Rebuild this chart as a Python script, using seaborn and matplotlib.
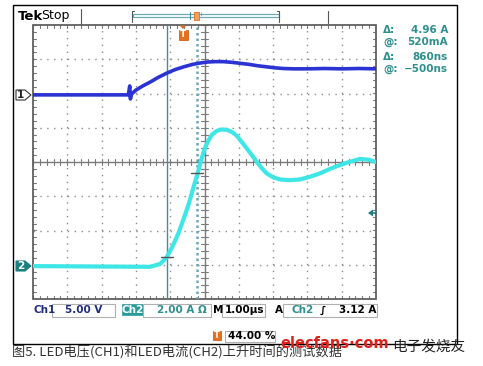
import matplotlib
matplotlib.use("Agg")
import matplotlib.pyplot as plt
import seaborn as sns
import numpy as np
import pandas as pd
from matplotlib.patches import Rectangle, Polygon

# ---------------- data (time in divisions of 1.00 us, level in divisions) -------------
ch1_time_div = [0.0, 2.78, 2.82, 2.84, 2.87, 3.0, 3.2, 3.41, 3.65, 3.91, 4.15, 4.4, 4.65,
                4.87, 5.1, 5.3, 5.55, 5.8, 6.05, 6.3, 6.55, 6.8, 7.05, 7.3, 7.6, 8.0,
                8.5, 9.0, 9.5, 10.0]
ch1_level_div = [1.96, 1.96, 2.22, 1.84, 1.98, 2.10, 2.22, 2.33, 2.47, 2.60, 2.70, 2.78, 2.85,
                 2.89, 2.92, 2.93, 2.93, 2.91, 2.88, 2.85, 2.81, 2.78, 2.75, 2.73, 2.72, 2.72,
                 2.73, 2.72, 2.73, 2.72]
ch2_time_div = [0.0, 3.41, 3.70, 3.90, 4.09, 4.24, 4.38, 4.53, 4.67, 4.80, 4.92, 5.01, 5.11,
                5.21, 5.36, 5.50, 5.65, 5.79, 5.94, 6.08, 6.23, 6.38, 6.52, 6.67, 6.81,
                7.01, 7.20, 7.49, 7.78, 8.08, 8.37, 8.66, 8.95, 9.15, 9.53, 9.77, 10.0]
ch2_level_div = [-3.04, -3.06, -2.98, -2.78, -2.42, -2.08, -1.69, -1.26, -0.77, -0.33, 0.11, 0.40, 0.62,
                 0.79, 0.91, 0.95, 0.94, 0.88, 0.77, 0.59, 0.40, 0.20, 0.01, -0.18, -0.33,
                 -0.45, -0.51, -0.53, -0.51, -0.43, -0.33, -0.20, -0.09, -0.02, 0.09, 0.07, 0.00]
cursor_times_div = [3.90, 4.78]
cursor_levels_div = [-2.77, -0.33]
readout_labels = ["Δ:", "@:", "Δ:", "@:"]
readout_values = ["4.96 A", "520mA", "860ns", "−500ns"]
ch1_scale = "5.00 V"
ch2_scale = "2.00 A Ω"
time_scale = "1.00µs"
trigger_level = "3.12 A"
trigger_pos = "44.00 %"
caption = "图5. LED电压(CH1)和LED电流(CH2)上升时间的测试数据"

sns.set_theme(style="white")
plt.rcParams['font.family'] = ['DejaVu Sans', 'Noto Sans CJK SC']

W, H = 483, 366
fig = plt.figure(figsize=(4.83, 3.66), dpi=100)
fig.patch.set_facecolor('white')

# ---------------- graticule axes ----------------
ax = fig.add_axes([33 / W, 1 - 299 / H, 343 / W, 274 / H])
ax.set_xlim(0, 10)
ax.set_ylim(-4, 4)
ax.axis('off')

grid_c = '#8c8c8c'
for gx in range(1, 10):
    if gx == 5:
        continue
    ax.plot([gx, gx], [-4, 4], color=grid_c, lw=1, ls=(0, (1, 3.93)), zorder=1)
for gy in range(-3, 4):
    if gy == 0:
        continue
    ax.plot([0, 10], [gy, gy], color=grid_c, lw=1, ls=(0, (1, 3.94)), zorder=1)
ax.plot([5, 5], [-4, 4], color='#7a7a7a', lw=1, zorder=1)
ax.plot([0, 10], [0, 0], color='#7a7a7a', lw=1, zorder=1)
for m in np.arange(0, 10.001, 0.2):
    ax.plot([m, m], [-0.09, 0.09], color='#7a7a7a', lw=0.8, zorder=1)
    ax.plot([m, m], [4, 3.9], color='#7a7a7a', lw=0.8, zorder=1)
    ax.plot([m, m], [-4, -3.9], color='#7a7a7a', lw=0.8, zorder=1)
for m in np.arange(-4, 4.001, 0.2):
    ax.plot([4.91, 5.09], [m, m], color='#7a7a7a', lw=0.8, zorder=1)
    ax.plot([0, 0.09], [m, m], color='#7a7a7a', lw=0.8, zorder=1)
    ax.plot([10, 9.91], [m, m], color='#7a7a7a', lw=0.8, zorder=1)
ax.add_patch(Rectangle((0, -4), 10, 8, fill=False, ec='#606060', lw=1.3, clip_on=False, zorder=2))

# cursors
ax.plot([cursor_times_div[0]] * 2, [-4, 4], color='#3f8f9c', lw=1.0, zorder=2)
ax.plot([cursor_times_div[1]] * 2, [-4, 4], color='#6aa6b4', lw=1.8, ls=(0, (1, 1.2)), zorder=2)

# traces
df1 = pd.DataFrame({'t': ch1_time_div, 'v': ch1_level_div})
df2 = pd.DataFrame({'t': ch2_time_div, 'v': ch2_level_div})
sns.lineplot(data=df1, x='t', y='v', ax=ax, color='#2b34d2', lw=2.6, sort=False,
             estimator=None, zorder=4)
sns.lineplot(data=df2, x='t', y='v', ax=ax, color='#3ee6e6', lw=3.0, sort=False,
             estimator=None, zorder=4)
for ln in ax.lines[-2:]:
    ln.set_solid_joinstyle('round')
    ln.set_solid_capstyle('round')
ax.set_xlim(0, 10)
ax.set_ylim(-4, 4)
ax.axis('off')

for ct, cl in zip(cursor_times_div, cursor_levels_div):
    ax.plot([ct - 0.17, ct + 0.17], [cl, cl], color='#555555', lw=1.0, zorder=5)

# ---------------- overlay in pixel coordinates ----------------
ov = fig.add_axes([0, 0, 1, 1], zorder=5)
ov.set_xlim(0, W)
ov.set_ylim(H, 0)
ov.axis('off')
ov.patch.set_alpha(0)

ov.add_patch(Rectangle((13, 5), 444, 339, fill=False, ec='black', lw=1.0))

# header
ov.text(18, 16, 'Tek', weight='bold', size=9.5, va='center', color='black')
ov.text(41, 16, 'Stop', size=9, va='center', color='black')
ov.plot([81, 81], [9, 24], color='#555555', lw=0.8)
ov.plot([328, 328], [11, 23], color='#555555', lw=0.8)
ov.add_patch(Rectangle((133, 13.5), 146, 3.5, fill=False, ec='#6aaab0', lw=0.9))
ov.plot([132, 132, 134], [22, 11, 11], color='#555555', lw=0.8)
ov.plot([279, 279, 277], [22, 11, 11], color='#555555', lw=0.8)
ov.plot([190, 190], [12, 19], color='#3f8f9c', lw=0.8)
ov.plot([201, 201], [12, 19], color='#6aa6b4', lw=0.8, ls=(0, (1, 1)))
ov.add_patch(Rectangle((193.5, 11.5), 5, 8, fc='#f0a060', ec='#e07020', lw=0.6))

# trigger marker in graticule
ov.add_patch(Polygon([(179.5, 25.5), (186.5, 25.5), (183, 29)], closed=True, fc='#e07020', ec='none'))
ov.add_patch(Rectangle((178.5, 29.5), 9, 10, fc='#e8701a', ec='#c05010', lw=0.5))
ov.text(183, 34.5, 'T', color='white', weight='bold', size=6.5, ha='center', va='center')

# channel ground markers
ov.add_patch(Polygon([(16, 90), (25, 90), (31, 95), (25, 100), (16, 100)], closed=True,
                     fc='white', ec='#333333', lw=0.8))
ov.text(20.5, 95.3, '1', size=7.5, weight='bold', ha='center', va='center', color='#222222')
ov.add_patch(Polygon([(16, 261), (25, 261), (31, 266), (25, 271), (16, 271)], closed=True,
                     fc='#1d7f80', ec='#1d7f80', lw=0.8))
ov.text(20.5, 266.3, '2', size=7.5, weight='bold', ha='center', va='center', color='white')

# trigger level arrow
ov.add_patch(Polygon([(368, 213), (373, 209.5), (373, 216.5)], closed=True, fc='#1d7f80', ec='none'))
ov.plot([373, 376], [213, 213], color='#1d7f80', lw=1.2)

# cursor readouts
teal = '#2f8f8f'
for lab, val, yy in zip(readout_labels, readout_values, [30, 42, 57, 69]):
    ov.text(383, yy, lab, color=teal, size=7.5, weight='bold', va='center')
    ov.text(448, yy, val, color=teal, size=7.5, weight='bold', va='center', ha='right')

# status bar
navy = '#1f2f80'
sy = 310
fs = 7.5
ov.text(33, sy, 'Ch1', color=navy, weight='bold', size=fs, va='center')
ov.add_patch(Rectangle((52, 303.5), 63, 13, fill=False, ec='#b0b0b0', lw=0.8))
ov.text(65, sy, ch1_scale, color=navy, weight='bold', size=fs, va='center')
ov.add_patch(Rectangle((122, 304), 21, 11, fc='#2a9a9a', ec='#2a9a9a', lw=0.5))
ov.text(132.5, sy, 'Ch2', color='white', weight='bold', size=fs, va='center', ha='center')
ov.add_patch(Rectangle((143, 303.5), 68, 13, fill=False, ec='#b0b0b0', lw=0.8))
ov.text(157, sy, ch2_scale, color=teal, weight='bold', size=fs, va='center')
ov.text(213, sy, 'M', color='black', weight='bold', size=fs, va='center')
ov.add_patch(Rectangle((222, 303.5), 43, 13, fill=False, ec='#b0b0b0', lw=0.8))
ov.text(225, sy, time_scale, color='black', weight='bold', size=fs, va='center')
ov.text(275, sy, 'A', color='black', weight='bold', size=fs, va='center')
ov.add_patch(Rectangle((283, 303.5), 94, 13, fill=False, ec='#b0b0b0', lw=0.8))
ov.text(292, sy, 'Ch2', color=teal, weight='bold', size=fs, va='center')
ov.text(320, sy, '∫', color='black', weight='bold', size=fs, va='center')
ov.text(376, sy, trigger_level, color='black', weight='bold', size=fs, va='center', ha='right')

# trigger position
ov.add_patch(Rectangle((213, 331), 8, 9, fc='#e8701a', ec='#c05010', lw=0.5))
ov.text(217, 335.7, 'T', color='white', weight='bold', size=6, ha='center', va='center')
ov.add_patch(Rectangle((225, 330.5), 50, 11, fill=False, ec='#b0b0b0', lw=0.8))
ov.text(228, 336, trigger_pos, color='black', weight='bold', size=fs, va='center')

# caption and watermark
ov.text(12, 353, caption, size=9.5, family=['Noto Sans CJK SC', 'DejaVu Sans'],
        style='italic', color='#333333', va='center')
ov.text(280, 343, 'elecfans·com', color='#e0201a', weight='bold', size=10.5, va='center',
        family=['DejaVu Sans'])
ov.text(392, 347, '电子发烧友', color='#222222', size=10.5, va='center',
        family=['Noto Sans CJK SC'])

fig.savefig('out.png', dpi=100, facecolor='white')
